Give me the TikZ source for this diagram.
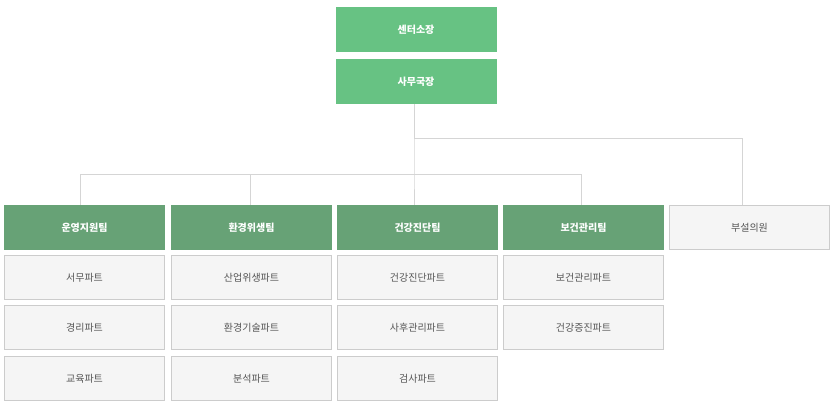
\documentclass[tikz,border=0pt]{standalone}
\usepackage{fontspec}
\setmainfont{Noto Sans CJK KR}
\definecolor{topg}{HTML}{67C283}
\definecolor{teamg}{HTML}{67A276}
\definecolor{subf}{HTML}{F5F5F5}
\definecolor{subd}{HTML}{CCCCCC}
\definecolor{linec}{HTML}{D5D5D5}
\definecolor{txt}{HTML}{555555}
\begin{document}
\begin{tikzpicture}[x=1pt,y=-1pt,
  box/.style={minimum width=161pt,minimum height=45pt,inner sep=0pt,font=\fontsize{10}{12}\selectfont},
  topbox/.style={box,fill=topg,text=white,font=\fontsize{10}{12}\selectfont\bfseries},
  teambox/.style={box,fill=teamg,text=white,font=\fontsize{10}{12}\selectfont\bfseries},
  subbox/.style={box,fill=subf,draw=subd,text=txt,minimum width=160pt,minimum height=44pt},
  conn/.style={draw=linec,line width=0.8pt}]
\useasboundingbox (0,0) rectangle (834,405);
\node[topbox] (c) at (416,29.5) {센터소장};
\node[topbox] (s) at (416,81.5) {사무국장};
\node[teambox] (t1) at (84.5,227.5) {운영지원팀};
\node[teambox] (t2) at (251.5,227.5) {환경위생팀};
\node[teambox] (t3) at (417.5,227.5) {건강진단팀};
\node[teambox] (t4) at (583.5,227.5) {보건관리팀};
\node[subbox] (t5) at (749.5,227.5) {부설의원};
\node[subbox] (a1) at (84.5,277.5) {서무파트};
\node[subbox] (a2) at (84.5,327.5) {경리파트};
\node[subbox] (a3) at (84.5,378.5) {교육파트};
\node[subbox] (b1) at (251.5,277.5) {산업위생파트};
\node[subbox] (b2) at (251.5,327.5) {환경기술파트};
\node[subbox] (b3) at (251.5,378.5) {분석파트};
\node[subbox] (c1) at (417.5,277.5) {건강진단파트};
\node[subbox] (c2) at (417.5,327.5) {사후관리파트};
\node[subbox] (c3) at (417.5,378.5) {검사파트};
\node[subbox] (d1) at (583.5,277.5) {보건관리파트};
\node[subbox] (d2) at (583.5,327.5) {건강증진파트};
\coordinate (j1) at (414,138);
\coordinate (j2) at (742,138);
\coordinate (h1) at (80,174);
\coordinate (h2) at (250,174);
\coordinate (h3) at (414,174);
\coordinate (h4) at (581,174);
\draw[conn] (414,104) -- (j1) -- (j2) -- (742,205);
\draw[conn] (j1) -- (h3) -- (414,205);
\draw[conn] (h1) -- (h4);
\draw[conn] (h1) -- (80,205);
\draw[conn] (h2) -- (250,205);
\draw[conn] (h4) -- (581,205);
\end{tikzpicture}
\end{document}
